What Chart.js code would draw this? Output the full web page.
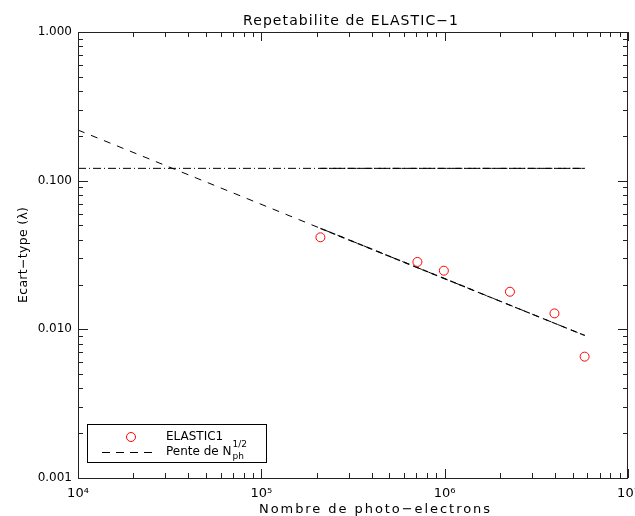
<!DOCTYPE html>
<html>
<head>
<meta charset="utf-8">
<script src="https://cdn.jsdelivr.net/npm/chart.js@4/dist/chart.umd.min.js"></script>
<style>
  html, body { margin: 0; padding: 0; background: #fff; }
  #wrap { width: 635px; height: 516px; }
</style>
</head>
<body>
<div id="wrap"><canvas id="elastic"></canvas></div>
<script>
const photoElectrons = [2.1e5, 7.1e5, 9.9e5, 2.27e6, 3.97e6, 5.8e6];
const ecartType = [0.0416, 0.0284, 0.0248, 0.0179, 0.0128, 0.00655];

// N^-1/2 slope line, full length and the denser part over the data
const penteX = [1e4, 5.8e6];
const penteY = [0.219, 0.0091];
const penteFitX = [2.1e5, 5.8e6];
const penteFitY = [0.0478, 0.0091];

// horizontal reference level
const niveauX = [1e4, 5.8e6];
const niveauY = [0.121, 0.121];
const niveauFitX = [2.1e5, 5.8e6];
const niveauFitY = [0.121, 0.121];

const xTicks = [1e4, 1e5, 1e6, 1e7];
const xTickLabels = ['10\u2074', '10\u2075', '10\u2076', '10\u2077'];
const yTicks = [0.001, 0.01, 0.1, 1];
const yTickLabels = ['0.001', '0.010', '0.100', '1.000'];

const FONT = 'DejaVu Sans';

function pts(xs, ys) {
  return xs.map((x, i) => ({ x: x, y: ys[i] }));
}

function minorValues(min, max) {
  const out = [];
  for (let d = min; d < max; d *= 10) {
    for (let k = 2; k <= 9; k++) out.push(d * k);
  }
  return out;
}

// the IDL font is wide, so spread the letters to the reference width
function spacedText(ctx, text, cx, y, width) {
  ctx.letterSpacing = '0px';
  const w0 = ctx.measureText(text).width;
  const gap = Math.max(0, (width - w0) / (text.length - 1));
  ctx.letterSpacing = gap + 'px';
  ctx.textAlign = 'left';
  ctx.fillText(text, cx - width / 2, y);
  ctx.letterSpacing = '0px';
}

// IDL style frame: inward ticks on the four sides, titles, legend box
const idlFrame = {
  id: 'idlFrame',
  afterDraw(chart) {
    const ctx = chart.ctx;
    const a = chart.chartArea;
    const xs = chart.scales.x, ys = chart.scales.y;
    ctx.save();
    ctx.strokeStyle = '#222';
    ctx.lineWidth = 1;
    ctx.strokeRect(a.left + 0.5, a.top + 0.5, a.right - a.left - 1, a.bottom - a.top);

    ctx.beginPath();
    xTicks.forEach(v => {
      const px = Math.round(xs.getPixelForValue(v)) + 0.5;
      ctx.moveTo(px, a.bottom); ctx.lineTo(px, a.bottom - 9);
      ctx.moveTo(px, a.top); ctx.lineTo(px, a.top + 9);
    });
    minorValues(1e4, 1e7).forEach(v => {
      const px = Math.round(xs.getPixelForValue(v)) + 0.5;
      ctx.moveTo(px, a.bottom); ctx.lineTo(px, a.bottom - 5);
      ctx.moveTo(px, a.top); ctx.lineTo(px, a.top + 5);
    });
    yTicks.forEach(v => {
      const py = Math.round(ys.getPixelForValue(v)) + 0.5;
      ctx.moveTo(a.left, py); ctx.lineTo(a.left + 10, py);
      ctx.moveTo(a.right, py); ctx.lineTo(a.right - 10, py);
    });
    minorValues(0.001, 1).forEach(v => {
      const py = Math.round(ys.getPixelForValue(v)) + 0.5;
      ctx.moveTo(a.left, py); ctx.lineTo(a.left + 5, py);
      ctx.moveTo(a.right, py); ctx.lineTo(a.right - 5, py);
    });
    ctx.stroke();

    // titles
    ctx.fillStyle = '#000';
    ctx.textBaseline = 'alphabetic';
    ctx.font = '14px ' + FONT;
    spacedText(ctx, 'Repetabilite de ELASTIC\u22121', 350.5, 24.5, 215);
    ctx.font = '13px ' + FONT;
    spacedText(ctx, 'Nombre de photo\u2212electrons', 374.5, 513, 231);
    ctx.save();
    ctx.translate(27, 255);
    ctx.rotate(-Math.PI / 2);
    ctx.font = '12.5px ' + FONT;
    spacedText(ctx, 'Ecart\u2212type (\u03bb)', 0, 0, 96);
    ctx.restore();

    // legend
    ctx.strokeStyle = '#000';
    ctx.strokeRect(87.5, 424.5, 179, 38);
    ctx.strokeStyle = '#ff0000';
    ctx.beginPath();
    ctx.arc(131, 437, 4.5, 0, Math.PI * 2);
    ctx.stroke();
    ctx.strokeStyle = '#000';
    ctx.setLineDash([8, 6]);
    ctx.beginPath();
    ctx.moveTo(102, 452.5); ctx.lineTo(153, 452.5);
    ctx.stroke();
    ctx.setLineDash([]);
    ctx.textAlign = 'left';
    ctx.textBaseline = 'middle';
    ctx.font = '12px ' + FONT;
    ctx.fillText('ELASTIC1', 166, 437);
    ctx.fillText('Pente de N', 166, 452);
    const w = ctx.measureText('Pente de N').width;
    ctx.font = '9px ' + FONT;
    ctx.fillText('1/2', 166 + w + 1, 445);
    ctx.fillText('ph', 166 + w + 1, 457);
    ctx.restore();
  }
};

new Chart(document.getElementById('elastic'), {
  type: 'scatter',
  data: {
    datasets: [
      {
        label: 'ELASTIC1',
        data: pts(photoElectrons, ecartType),
        pointStyle: 'circle',
        pointRadius: 4.5,
        borderColor: '#ff0000',
        backgroundColor: 'rgba(0,0,0,0)',
        borderWidth: 1
      },
      {
        label: 'Pente',
        data: pts(penteX, penteY),
        showLine: true,
        borderColor: '#000',
        borderWidth: 1,
        borderDash: [7, 7],
        pointRadius: 0
      },
      {
        label: 'Pente fit',
        data: pts(penteFitX, penteFitY),
        showLine: true,
        borderColor: '#000',
        borderWidth: 1.2,
        borderDash: [6, 4],
        pointRadius: 0
      },
      {
        label: 'Niveau',
        data: pts(niveauX, niveauY),
        showLine: true,
        borderColor: '#000',
        borderWidth: 1,
        borderDash: [8, 3, 1, 3],
        pointRadius: 0
      },
      {
        label: 'Niveau fit',
        data: pts(niveauFitX, niveauFitY),
        showLine: true,
        borderColor: '#000',
        borderWidth: 1,
        borderDash: [7, 2],
        pointRadius: 0
      }
    ]
  },
  options: {
    responsive: true,
    maintainAspectRatio: false,
    animation: false,
    layout: { padding: { left: 0, right: 7, top: 32, bottom: 0 } },
    plugins: {
      legend: { display: false },
      tooltip: { enabled: false }
    },
    scales: {
      x: {
        type: 'logarithmic',
        min: 1e4,
        max: 1e7,
        grid: { display: false, drawTicks: false },
        border: { display: false },
        afterBuildTicks: s => { s.ticks = xTicks.map(v => ({ value: v })); },
        afterFit: s => { s.height = 38; s.paddingLeft = 0; s.paddingRight = 0; },
        ticks: {
          color: '#000',
          padding: 8,
          maxRotation: 0,
          autoSkip: false,
          font: { family: FONT, size: 13 },
          callback: v => xTickLabels[xTicks.indexOf(v)] ?? ''
        }
      },
      y: {
        type: 'logarithmic',
        min: 0.001,
        max: 1,
        grid: { display: false, drawTicks: false },
        border: { display: false },
        afterBuildTicks: s => { s.ticks = yTicks.map(v => ({ value: v })); },
        afterFit: s => { s.width = 78; s.paddingTop = 0; s.paddingBottom = 0; },
        ticks: {
          color: '#000',
          padding: 6,
          autoSkip: false,
          font: { family: FONT, size: 12 },
          callback: v => yTickLabels[yTicks.indexOf(v)] ?? ''
        }
      }
    }
  },
  plugins: [idlFrame]
});
</script>
</body>
</html>
